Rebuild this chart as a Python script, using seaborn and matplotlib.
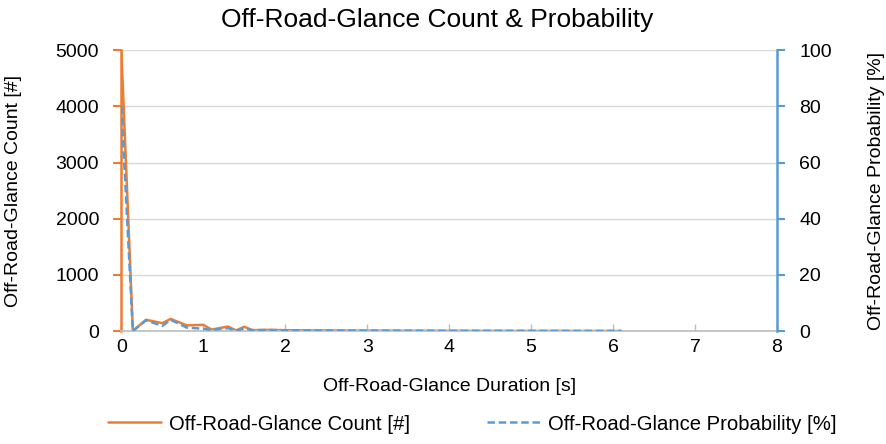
import pandas as pd
import matplotlib
matplotlib.use('Agg')
import matplotlib.pyplot as plt
import seaborn as sns
from matplotlib.lines import Line2D

# glance duration [s]
duration = [0.0, 0.14, 0.3, 0.5, 0.6, 0.8, 1.0, 1.1, 1.3, 1.4, 1.5, 1.6, 1.8, 2.0, 2.2, 2.4, 2.6,
            2.8, 3.0, 3.2, 3.4, 3.6, 3.8, 4.0, 4.2, 4.4, 4.6, 4.8, 5.0, 5.2, 5.4, 5.6, 5.8, 6.0, 6.1]
# count [#]
count = [4980, 0, 200, 140, 215, 100, 110, 25, 80, 10, 75, 15, 20, 14, 12, 10, 9, 8, 7, 6,
         5, 5, 4, 4, 3, 3, 3, 2, 2, 2, 2, 1, 1, 1, 1]
# probability [%]
probability = [80, 0, 3.8, 1.8, 4.0, 1.2, 0.8, 0.4, 1.0, 0.1, 0.9, 0.3, 0.35, 0.25, 0.2, 0.18,
               0.15, 0.13, 0.12, 0.1, 0.09, 0.08, 0.07, 0.07, 0.06, 0.05, 0.05, 0.04, 0.04,
               0.03, 0.03, 0.02, 0.02, 0.02, 0.02]

df = pd.DataFrame({'Duration': duration, 'Count': count, 'Probability': probability})

sns.set_theme(style='white')
plt.rcParams['font.family'] = ['Liberation Sans', 'DejaVu Sans']
plt.rcParams['text.color'] = 'black'
plt.rcParams['axes.labelcolor'] = 'black'

ORANGE = '#ED7D31'
BLUE = '#5B9BD5'
FS = 14

fig = plt.figure(figsize=(8.86, 4.44), dpi=100)
ax = fig.add_axes([0.137, 0.2545, 0.740, 0.6325])
ax2 = ax.twinx()

sns.lineplot(data=df, x='Duration', y='Count', ax=ax, color=ORANGE, lw=1.8)
sns.lineplot(data=df, x='Duration', y='Probability', ax=ax2, color=BLUE, lw=1.8,
             linestyle=(0, (3, 1.5)))

ax.set_xlim(0, 8)
ax.set_ylim(0, 5000)
ax2.set_ylim(0, 100)
ax.set_xticks(range(0, 9))
ax.set_yticks(range(0, 5001, 1000))
ax2.set_yticks(range(0, 101, 20))

ax.yaxis.grid(True, color='#d9d9d9', lw=1)
ax.set_axisbelow(True)

for a in (ax, ax2):
    for s in a.spines.values():
        s.set_visible(False)
ax.spines['bottom'].set_visible(True)
ax.spines['bottom'].set_color('#bfbfbf')
ax.spines['left'].set_visible(True)
ax.spines['left'].set_color(ORANGE)
ax.spines['left'].set_linewidth(1.8)
ax2.spines['right'].set_visible(True)
ax2.spines['right'].set_color(BLUE)
ax2.spines['right'].set_linewidth(1.8)

ax.tick_params(axis='y', colors=ORANGE, labelcolor='black', direction='out',
               length=6, width=1.5, pad=10, labelsize=FS, left=True)
ax2.tick_params(axis='y', colors=BLUE, labelcolor='black', direction='out',
                length=6, width=1.5, pad=10, labelsize=FS, right=True)
ax.tick_params(axis='x', colors='#bfbfbf', labelcolor='black', direction='in',
               length=5, width=1, pad=6, labelsize=FS, bottom=True)

ax.set_xlabel('Off-Road-Glance Duration [s]', fontsize=FS)
ax.set_ylabel('Off-Road-Glance Count [#]', fontsize=FS)
ax2.set_ylabel('Off-Road-Glance Probability [%]', fontsize=FS)
ax.xaxis.set_label_coords(0.5, -0.168)
ax.yaxis.set_label_coords(-0.152, 0.5)
ax2.yaxis.set_label_coords(1.138, 0.5)

fig.text(0.494, 0.955, 'Off-Road-Glance Count & Probability', ha='center', va='center',
         fontsize=19)

handles = [Line2D([], [], color=ORANGE, lw=1.8),
           Line2D([], [], color=BLUE, lw=1.8, linestyle=(0, (3, 1.5)))]
fig.legend(handles, ['Off-Road-Glance Count [#]', 'Off-Road-Glance Probability [%]'],
           loc='center', bbox_to_anchor=(0.533, 0.045), ncol=2, frameon=False,
           fontsize=14.6, handlelength=2.6, handletextpad=0.4, columnspacing=3.8)

fig.savefig('out.png', dpi=100)
